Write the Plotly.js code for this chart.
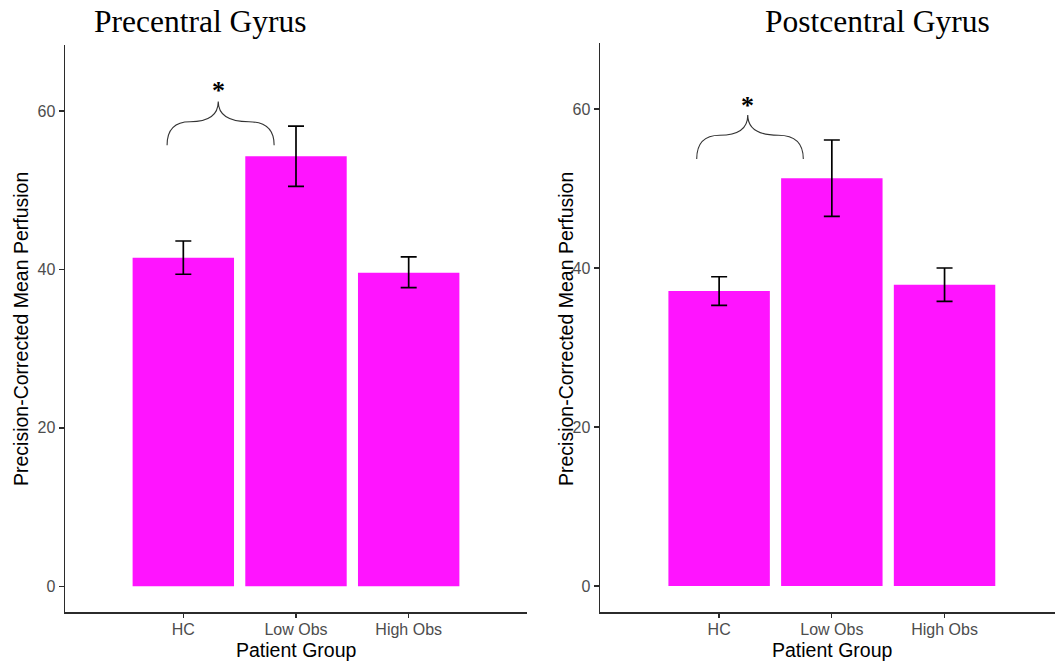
<!DOCTYPE html>
<html>
<head>
<meta charset="utf-8">
<script src="https://cdn.plot.ly/plotly-3.0.1.min.js"></script>
<style>
  html, body { margin: 0; padding: 0; background: #ffffff; overflow: hidden; }
  #chart { width: 1055px; height: 664px; }
</style>
</head>
<body>
<div id="chart"></div>
<script>
// ---- Data ----
const categories = ["HC", "Low Obs", "High Obs"];
const catIndex = [0, 1, 2];

// Precentral Gyrus
const preMean  = [41.5, 54.3, 39.6];
const preUpper = [43.6, 58.1, 41.6];
const preLower = [39.4, 50.5, 37.7];

// Postcentral Gyrus
const postMean  = [37.1, 51.3, 37.9];
const postUpper = [38.9, 56.1, 40.0];
const postLower = [35.3, 46.5, 35.8];

const yTicks = [0, 20, 40, 60];
const panelTitles = ["Precentral Gyrus", "Postcentral Gyrus"];
const xTitle = "Patient Group";
const yTitle = "Precision-Corrected Mean Perfusion";
const sigMark = "*";

// ---- Styling ----
const W = 1055, H = 664;
const barColor = "#ff14ff";
const axisColor = "#2b2b2b";
const tickColor = "#4d4d4d";
const sans = "Liberation Sans, Arial, sans-serif";
const serif = "Liberation Serif, Times New Roman, serif";

function px(x) { return x / W; }
function py(y) { return 1 - y / H; }

function barTrace(mean, upper, lower, xa, ya) {
  return {
    type: "bar",
    x: catIndex,
    y: mean,
    width: 0.9,
    xaxis: xa, yaxis: ya,
    marker: { color: barColor, line: { width: 0 } },
    error_y: {
      type: "data",
      symmetric: false,
      array: upper.map((u, i) => u - mean[i]),
      arrayminus: mean.map((m, i) => m - lower[i]),
      color: "#000000",
      thickness: 1.7,
      width: 8
    },
    hoverinfo: "skip",
    showlegend: false
  };
}

// brace geometry (annotation positions in axis units)
function bracePath(b) {
  const xm1 = b.xL + 0.45 * (b.xP - b.xL);
  const xm2 = b.xR - 0.45 * (b.xR - b.xP);
  return `M ${b.xL},${b.yb} Q ${b.xL},${b.ym} ${xm1},${b.ym} Q ${b.xP},${b.ym} ${b.xP},${b.yp} ` +
         `M ${b.xR},${b.yb} Q ${b.xR},${b.ym} ${xm2},${b.ym} Q ${b.xP},${b.ym} ${b.xP},${b.yp}`;
}
const braceLeft  = { xL: -0.144, xR: 0.806, xP: 0.31,  yb: 55.7, ym: 58.65, yp: 61.2, ys: 62.6 };
const braceRight = { xL: -0.199, xR: 0.747, xP: 0.254, yb: 53.7, ym: 56.7,  yp: 59.25, ys: 60.4 };

const traces = [
  barTrace(preMean, preUpper, preLower, "x", "y"),
  barTrace(postMean, postUpper, postLower, "x2", "y2")
];

function xAxis(domain, range) {
  return {
    domain: domain, range: range, type: "linear",
    tickvals: catIndex, ticktext: categories,
    showline: true, linecolor: axisColor, linewidth: 1.5,
    ticks: "outside", ticklen: 4, tickwidth: 1.3, tickcolor: axisColor,
    ticklabelstandoff: -2,
    tickfont: { family: sans, size: 16, color: tickColor },
    showgrid: false, zeroline: false, fixedrange: true
  };
}
function yAxis(domain, range, anchor) {
  return {
    domain: domain, range: range, anchor: anchor,
    tickvals: yTicks,
    showline: true, linecolor: axisColor, linewidth: 1.5,
    ticks: "outside", ticklen: 5, tickwidth: 1.3, tickcolor: axisColor,
    tickfont: { family: sans, size: 16, color: tickColor },
    showgrid: false, zeroline: false, fixedrange: true
  };
}

const layout = {
  width: W, height: H,
  margin: { l: 0, r: 0, t: 0, b: 0 },
  paper_bgcolor: "#ffffff", plot_bgcolor: "#ffffff",
  showlegend: false,
  xaxis:  Object.assign(xAxis([px(65), px(527)], [-1.05, 3.05]), { anchor: "y" }),
  yaxis:  yAxis([py(612), py(45)], [-3.25, 68.35], "x"),
  xaxis2: Object.assign(xAxis([px(600), 1], [-1.057, 2.98]), { anchor: "y2" }),
  yaxis2: yAxis([py(612), py(43)], [-3.27, 68.3], "x2"),
  shapes: [
    { type: "path", xref: "x", yref: "y", path: bracePath(braceLeft),
      line: { color: "#333333", width: 1.1 } },
    { type: "path", xref: "x2", yref: "y2", path: bracePath(braceRight),
      line: { color: "#333333", width: 1.1 } }
  ],
  annotations: [
    { text: panelTitles[0], xref: "paper", yref: "paper", x: px(200), y: py(22),
      xanchor: "center", yanchor: "middle", showarrow: false,
      font: { family: serif, size: 31.5, color: "#000000" } },
    { text: panelTitles[1], xref: "paper", yref: "paper", x: px(877.5), y: py(22),
      xanchor: "center", yanchor: "middle", showarrow: false,
      font: { family: serif, size: 31.5, color: "#000000" } },
    { text: "<b>" + sigMark + "</b>", xref: "x", yref: "y", x: braceLeft.xP, y: braceLeft.ys,
      xanchor: "center", yanchor: "middle", showarrow: false,
      font: { family: serif, size: 26, color: "#000000" } },
    { text: "<b>" + sigMark + "</b>", xref: "x2", yref: "y2", x: braceRight.xP, y: braceRight.ys,
      xanchor: "center", yanchor: "middle", showarrow: false,
      font: { family: serif, size: 26, color: "#000000" } },
    { text: xTitle, xref: "x", yref: "paper", x: 1, y: py(650),
      xanchor: "center", yanchor: "middle", showarrow: false,
      font: { family: sans, size: 19.5, color: "#000000" } },
    { text: xTitle, xref: "x2", yref: "paper", x: 1, y: py(650),
      xanchor: "center", yanchor: "middle", showarrow: false,
      font: { family: sans, size: 19.5, color: "#000000" } },
    { text: yTitle, xref: "paper", yref: "paper", x: px(21), y: py(329),
      xanchor: "center", yanchor: "middle", textangle: -90, showarrow: false,
      font: { family: sans, size: 19.5, color: "#000000" } },
    { text: yTitle, xref: "paper", yref: "paper", x: px(566), y: py(329),
      xanchor: "center", yanchor: "middle", textangle: -90, showarrow: false,
      font: { family: sans, size: 19.5, color: "#000000" } }
  ]
};

Plotly.newPlot("chart", traces, layout, { staticPlot: true, displayModeBar: false });
</script>
</body>
</html>
